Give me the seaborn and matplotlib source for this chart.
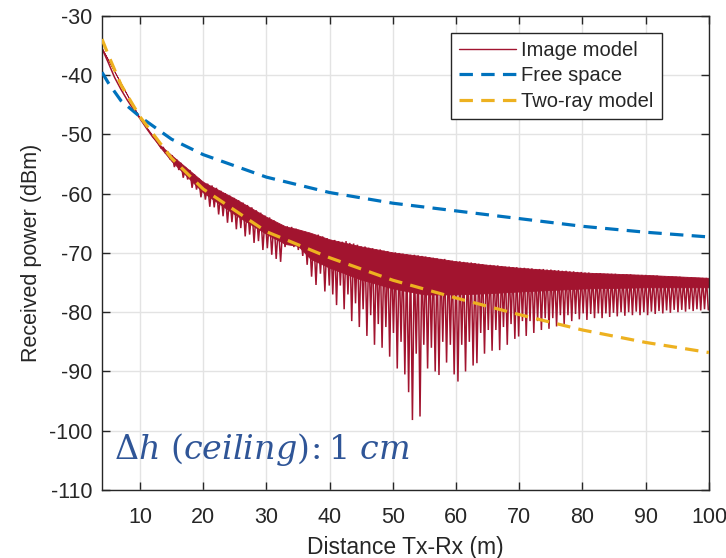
import numpy as np
import pandas as pd
import matplotlib
matplotlib.use("Agg")
import matplotlib.pyplot as plt
import seaborn as sns
from matplotlib.lines import Line2D

# ---------------- data ----------------
dist_ref = [4, 5, 7, 10, 15, 20, 30, 40, 50, 60, 70, 80, 90, 100]
free_space = [-39.5, -41.3, -44.3, -47.0, -50.8, -53.4, -57.2, -59.8, -61.6,
              -62.9, -64.2, -65.5, -66.5, -67.3]
two_ray = [-33.9, -36.6, -41.6, -47.0, -54.0, -59.2, -66.4, -70.8, -74.6,
           -77.6, -80.4, -83.0, -85.1, -86.8]

# image model, smooth near-field start
start_x = [4, 5, 6, 7, 8, 9, 10, 11, 12, 13]
start_y = [-35.5, -37.9, -40.4, -42.4, -44.2, -45.8, -47.3, -48.9, -50.4, -51.6]

# image model, local maxima of the fading pattern
peak_x = [13.7, 14.4, 15.1, 15.8, 16.5, 17.2, 17.9, 18.6, 19.3, 20.0, 20.7,
          21.4, 22.1, 22.8, 23.5, 24.2, 24.9, 25.6, 26.3, 27.0, 27.7, 28.4,
          29.1, 29.8, 30.5, 31.2, 31.9, 32.6, 33.3, 34.0, 34.7, 35.4, 36.1,
          36.8, 37.5, 38.2, 38.9, 39.6,
          40.2, 40.8, 41.4, 42.0, 42.6, 43.2, 43.8, 44.4, 45.0, 45.6, 46.2,
          46.8, 47.4, 48.0, 48.6, 49.2, 49.8, 50.4, 51.0, 51.6, 52.2, 52.8,
          53.4, 54.0, 54.6, 55.2, 55.8, 56.4, 57.0, 57.6, 58.2, 58.8, 59.4,
          60.0, 60.6, 61.2, 61.8, 62.4, 63.0, 63.6, 64.2, 64.8, 65.4, 66.0,
          66.6, 67.2, 67.8, 68.4, 69.0, 69.6, 70.2, 70.8, 71.4, 72.0, 72.6,
          73.2, 73.8, 74.4, 75.0, 75.6, 76.2, 76.8, 77.4, 78.0, 78.6, 79.2,
          79.8, 80.4, 81.0, 81.6, 82.2, 82.8, 83.4, 84.0, 84.6, 85.2, 85.8,
          86.4, 87.0, 87.6, 88.2, 88.8, 89.4, 90.0, 90.6, 91.2, 91.8, 92.4,
          93.0, 93.6, 94.2, 94.8, 95.4, 96.0, 96.6, 97.2, 97.8, 98.4, 99.0,
          99.6]
peak_y = [-52.2, -52.9, -53.5, -54.2, -54.8, -55.5, -56.0, -56.7, -57.4,
          -58.0, -58.3, -58.6, -59.0, -59.5, -59.9, -60.3, -60.7, -61.1,
          -61.5, -61.9, -62.3, -62.8, -63.2, -63.7, -64.0, -64.5, -65.4,
          -65.4, -65.5, -65.6, -65.9, -66.2, -66.4, -66.6, -67.5, -66.9,
          -67.2, -67.5,
          -67.8, -67.8, -68.0, -68.1, -68.0, -68.3, -68.4, -68.6, -68.9,
          -68.9, -69.1, -69.2, -69.4, -69.4, -69.6, -69.7, -69.9, -69.9,
          -70.0, -70.1, -70.2, -70.3, -70.3, -70.4, -70.5, -70.6, -70.7,
          -70.8, -70.9, -71.0, -71.0, -71.2, -71.3, -71.4, -71.4, -71.5,
          -71.6, -71.6, -71.7, -71.8, -71.9, -72.0, -72.0, -72.1, -72.1,
          -72.2, -72.3, -72.3, -72.4, -72.4, -72.5, -72.5, -72.6, -72.6,
          -72.7, -72.7, -72.7, -72.8, -72.8, -72.9, -72.9, -73.0, -73.0,
          -73.1, -73.1, -73.2, -73.2, -73.3, -73.3, -73.4, -73.4, -73.4,
          -73.5, -73.5, -73.5, -73.5, -73.6, -73.6, -73.6, -73.6, -73.7,
          -73.7, -73.7, -73.7, -73.8, -73.8, -73.8, -73.9, -73.9, -73.9,
          -74.0, -74.0, -74.0, -74.1, -74.1, -74.1, -74.2, -74.2, -74.2,
          -74.2]

# image model, fading nulls
null_x = [13.35, 14.05, 14.75, 15.45, 16.15, 16.85, 17.55, 18.25, 18.95,
          19.65, 20.35, 21.05, 21.75, 22.45, 23.15, 23.85, 24.55, 25.25,
          25.95, 26.65, 27.35, 28.05, 28.75, 29.45, 30.15, 30.85, 31.55,
          32.25, 32.95, 33.65, 34.35, 35.05, 35.75, 36.45, 37.15, 37.85,
          38.55, 39.25, 39.95,
          40.5, 41.1, 41.7, 42.3, 42.9, 43.5, 44.1, 44.7, 45.3, 45.9, 46.5,
          47.1, 47.7, 48.3, 48.9, 49.5, 50.1, 50.7, 51.3, 51.9, 52.5, 53.1,
          53.7, 54.3, 54.9, 55.5, 56.1, 56.7, 57.3, 57.9, 58.5, 59.1, 59.7,
          60.3, 60.9, 61.5, 62.1, 62.7, 63.3, 63.9, 64.5, 65.1, 65.7, 66.3,
          66.9, 67.5, 68.1, 68.7, 69.3, 69.9, 70.5, 71.1, 71.7, 72.3, 72.9,
          73.5, 74.1, 74.7, 75.3, 75.9, 76.5, 77.1, 77.7, 78.3, 78.9, 79.5,
          80.1, 80.7, 81.3, 81.9, 82.5, 83.1, 83.7, 84.3, 84.9, 85.5, 86.1,
          86.7, 87.3, 87.9, 88.5, 89.1, 89.7, 90.3, 90.9, 91.5, 92.1, 92.7,
          93.3, 93.9, 94.5, 95.1, 95.7, 96.3, 96.9, 97.5, 98.1, 98.7, 99.3,
          99.9]
null_y = [-52.3, -53.2, -54.2, -55.5, -56.0, -57.3, -57.6, -59.0, -59.3,
          -60.6, -61.0, -62.2, -62.3, -63.5, -63.8, -64.9, -64.8, -66.0,
          -65.8, -67.2, -66.9, -68.3, -68.0, -69.5, -69.2, -70.3, -71.0,
          -71.5, -69.0, -68.5, -69.0, -69.5, -70.5, -72.0, -74.0, -75.4,
          -73.5, -76.5, -75.5,
          -77.0, -78.8, -75.5, -79.5, -77.0, -81.5, -78.5, -82.5, -79.5,
          -84.0, -80.5, -85.5, -82.0, -86.0, -82.5, -87.5, -83.5, -89.5,
          -85.0, -90.5, -93.5, -98.2, -87.0, -97.6, -85.5, -89.5, -86.0,
          -90.0, -90.6, -85.0, -88.5, -85.5, -90.5, -91.7, -85.5, -90.0,
          -85.0, -89.0, -88.6, -83.5, -87.0, -83.0, -86.5, -83.0, -86.4,
          -82.5, -85.5, -82.0, -84.5, -84.1, -81.5, -84.0, -81.5, -83.5,
          -81.5, -83.0, -81.0, -82.8, -81.0, -82.4, -80.5, -82.0, -80.5,
          -81.5, -80.3, -81.2, -80.2, -81.3, -80.3, -81.0, -80.2, -81.0,
          -80.2, -80.8, -80.1, -80.7, -80.0, -80.6, -80.0, -80.5, -79.9,
          -80.5, -80.0, -80.5, -79.9, -80.3, -79.8, -80.2, -79.7, -80.1,
          -79.6, -80.0, -79.6, -79.9, -79.5, -79.8, -79.5, -79.7, -79.5,
          -79.6]

# image model, densely filled core of the band (where the trace is solid)
core_x = [4, 10, 13, 15, 20, 25, 30, 33, 35, 37, 40, 45, 50, 55, 60, 65, 70,
          80, 90, 100]
core_top = [-35.5, -47.3, -51.6, -53.5, -58.0, -60.8, -63.9, -65.5, -66.0,
            -66.6, -67.7, -68.9, -69.9, -70.6, -71.4, -72.0, -72.5, -73.3,
            -73.7, -74.2]
core_bot = [-35.5, -47.3, -51.9, -54.5, -59.8, -63.5, -66.8, -68.5, -68.8,
            -71.0, -72.5, -74.5, -76.0, -77.0, -77.0, -76.8, -76.5, -76.0,
            -75.8, -75.8]

x_ticks = [10, 20, 30, 40, 50, 60, 70, 80, 90, 100]
y_ticks = [-110, -100, -90, -80, -70, -60, -50, -40, -30]
series_names = ["Image model", "Free space", "Two-ray model"]

# ---------------- style ----------------
sns.set_theme(style="ticks")
plt.rcParams["font.family"] = ["Liberation Sans", "DejaVu Sans"]
plt.rcParams["mathtext.fontset"] = "dejavuserif"

RED = "#A2142F"
BLUE = "#0072BD"
ORANGE = "#EDB120"
DASH = (0, (4.2, 2.6))

fig = plt.figure(figsize=(7.26, 5.58), dpi=100)
ax = fig.add_axes([0.1405, 0.1219, 0.836, 0.8495])

# image model trace
img = pd.DataFrame({"x": start_x + peak_x + null_x,
                    "y": start_y + peak_y + null_y}).sort_values("x")
ax.fill_between(core_x, core_bot, core_top, color=RED, linewidth=0.6,
                edgecolor=RED, zorder=2)
ax.plot(img["x"].to_numpy(), img["y"].to_numpy(), color=RED, linewidth=1.1,
        zorder=2, solid_joinstyle="miter")

df = pd.DataFrame({"d": dist_ref, "Free space": free_space,
                   "Two-ray model": two_ray})
sns.lineplot(data=df, x="d", y="Free space", ax=ax, color=BLUE,
             linewidth=2.3, linestyle=DASH, zorder=3)
sns.lineplot(data=df, x="d", y="Two-ray model", ax=ax, color=ORANGE,
             linewidth=2.3, linestyle=DASH, zorder=4)

ax.set_xlim(4, 100)
ax.set_ylim(-110, -30)
ax.set_xticks(x_ticks)
ax.set_yticks(y_ticks)
ax.set_xticklabels([str(t) for t in x_ticks])
ax.set_yticklabels([str(t) for t in y_ticks])
ax.grid(True, color="#E3E3E3", linewidth=1.0)
ax.set_axisbelow(True)
ax.tick_params(direction="in", length=6, width=1, colors="#262626",
               labelsize=15.5, top=True, right=True, labelcolor="#262626")
ax.tick_params(axis="x", pad=12)
ax.tick_params(axis="y", pad=7)
for s in ax.spines.values():
    s.set_color("#262626")
    s.set_linewidth(1.0)

ax.set_xlabel("Distance Tx-Rx (m)", fontsize=16.5, color="#262626",
              labelpad=6)
ax.set_ylabel("Received power (dBm)", fontsize=15.5, color="#262626",
              labelpad=5)

handles = [Line2D([], [], color=RED, linewidth=1.0),
           Line2D([], [], color=BLUE, linewidth=2.3, linestyle=DASH),
           Line2D([], [], color=ORANGE, linewidth=2.3, linestyle=DASH)]
leg = ax.legend(handles, series_names, loc="upper right",
                fontsize=14.5, frameon=True, fancybox=False,
                edgecolor="#262626", framealpha=1, handlelength=2.85,
                handletextpad=0.25, borderpad=0.4, labelspacing=0.33,
                borderaxespad=0, bbox_to_anchor=(0.922, 0.965))
leg.get_frame().set_linewidth(1.0)

ax.text(0.02, 0.085, r"$\Delta h\ (ceiling)\!:1\ cm$", transform=ax.transAxes,
        fontsize=24, color="#2F5597", ha="left", va="center")

fig.savefig("out.png", dpi=100)
